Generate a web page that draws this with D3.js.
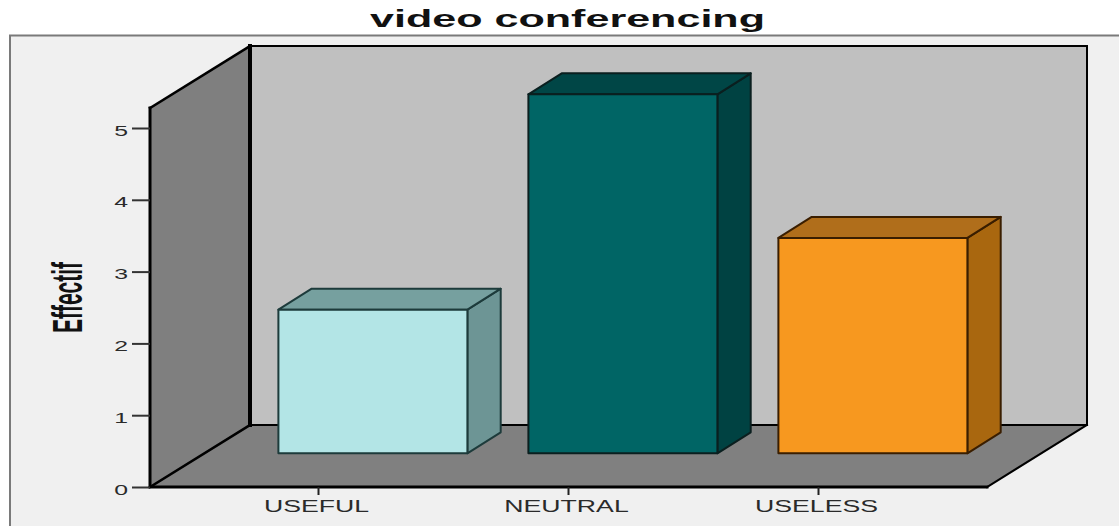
<!DOCTYPE html>
<html>
<head>
<meta charset="utf-8">
<script src="https://cdn.jsdelivr.net/npm/d3@7/dist/d3.min.js"></script>
<style>
  html, body { margin: 0; padding: 0; background: #ffffff; }
  svg { display: block; }
  text { font-family: "Liberation Sans", Arial, sans-serif; }
</style>
</head>
<body>
<svg id="chart" width="1119" height="526"></svg>
<script>
// ---- data ----
const categories = ["USEFUL", "NEUTRAL", "USELESS"];
const counts = [2, 5, 3];
const yTicks = [0, 1, 2, 3, 4, 5];
const chartTitle = "video conferencing";
const yTitle = "Effectif";

// ---- styles ----
const faceColors = {
  front: ["#b3e5e6", "#006565", "#f7981f"],
  top:   ["#76a09f", "#004646", "#b06e1b"],
  side:  ["#6d9595", "#004242", "#a9670f"],
  edge:  ["#1d3b3b", "#0a1f1f", "#3a1e00"]
};

// ---- layout ----
const W = 1119, H = 526;
const plot = { left: 150, right: 987, floor: 487, wallTop: 108 };
const depth = { dx: 100, dy: -62 };          // back wall offset
const barFront = { dx: 54.4, dy: -33.7 };    // bar front plane offset
const barDepth = { dx: 33.3, dy: -21 };      // bar thickness in depth

const svg = d3.select("#chart");

const x = d3.scaleBand()
  .domain(categories)
  .range([plot.left, plot.right])
  .paddingInner(0.244)
  .paddingOuter(0.296);

const y = d3.scaleLinear()
  .domain([0, 5])
  .range([plot.floor, 128]);

const poly = pts => "M" + pts.map(p => p.join(",")).join("L") + "Z";

// outer frame
svg.append("rect")
  .attr("x", 10).attr("y", 35.5)
  .attr("width", W + 20).attr("height", H)
  .attr("fill", "#f0f0f0")
  .attr("stroke", "#7a7a7a").attr("stroke-width", 2);

const L = plot.left, R = plot.right, F = plot.floor, T = plot.wallTop;
const bx = depth.dx, by = depth.dy;

// back wall
svg.append("path")
  .attr("d", poly([[L + bx, T + by], [R + bx, T + by], [R + bx, F + by], [L + bx, F + by]]))
  .attr("fill", "#c0c0c0");

// left wall
svg.append("path")
  .attr("d", poly([[L, T], [L + bx, T + by], [L + bx, F + by], [L, F]]))
  .attr("fill", "#7f7f7f");

// floor
svg.append("path")
  .attr("d", poly([[L, F], [L + bx, F + by], [R + bx, F + by], [R, F]]))
  .attr("fill", "#808080");

// frame edges
const edges = svg.append("g").attr("fill", "none").attr("stroke", "#000").attr("stroke-linecap", "square");
edges.append("path").attr("d", `M${L + bx},${T + by}L${R + bx},${T + by}L${R + bx},${F + by}L${L + bx},${F + by}`).attr("stroke-width", 2);
edges.append("path").attr("d", `M${L + bx},${T + by}L${L + bx},${F + by}`).attr("stroke-width", 4);
edges.append("path").attr("d", `M${L},${T}L${L + bx},${T + by}`).attr("stroke-width", 2.5);
edges.append("path").attr("d", `M${L},${F}L${L + bx},${F + by}`).attr("stroke-width", 2.5);
edges.append("path").attr("d", `M${R},${F}L${R + bx},${F + by}`).attr("stroke-width", 2);
edges.append("path").attr("d", `M${L},${T}L${L},${F}L${R},${F}`).attr("stroke-width", 3);

// bars
const bars = svg.append("g").selectAll("g")
  .data(categories.map((c, i) => ({ c, v: counts[i], i })))
  .join("g");

bars.each(function(d) {
  const g = d3.select(this);
  const x0 = x(d.c) + barFront.dx;
  const x1 = x0 + x.bandwidth();
  const yb = y(0) + barFront.dy;
  const yt = y(d.v) + barFront.dy;
  const ddx = barDepth.dx, ddy = barDepth.dy;
  const stroke = faceColors.edge[d.i];
  // side
  g.append("path")
    .attr("d", poly([[x1, yt], [x1 + ddx, yt + ddy], [x1 + ddx, yb + ddy], [x1, yb]]))
    .attr("fill", faceColors.side[d.i]).attr("stroke", stroke).attr("stroke-width", 2).attr("stroke-linejoin", "round");
  // top
  g.append("path")
    .attr("d", poly([[x0, yt], [x0 + ddx, yt + ddy], [x1 + ddx, yt + ddy], [x1, yt]]))
    .attr("fill", faceColors.top[d.i]).attr("stroke", stroke).attr("stroke-width", 2).attr("stroke-linejoin", "round");
  // front
  g.append("path")
    .attr("d", poly([[x0, yt], [x1, yt], [x1, yb], [x0, yb]]))
    .attr("fill", faceColors.front[d.i]).attr("stroke", stroke).attr("stroke-width", 2).attr("stroke-linejoin", "round");
});

// y axis
const yAxis = svg.append("g")
  .attr("transform", `translate(${L},0)`)
  .call(d3.axisLeft(y).tickValues(yTicks).tickSize(18).tickPadding(4).tickFormat(d3.format("d")));
yAxis.select(".domain").remove();
yAxis.selectAll(".tick line").attr("stroke", "#333").attr("stroke-width", 2);
yAxis.selectAll(".tick text").remove();
yAxis.selectAll(".tick").append("g")
  .attr("transform", "translate(-22,7) scale(1.6,1)")
  .append("text")
  .attr("text-anchor", "end")
  .attr("font-size", 15.5)
  .attr("fill", "#2a2a2a")
  .text(d => d);

// x axis
const xAxis = svg.append("g")
  .attr("transform", `translate(0,${F})`)
  .call(d3.axisBottom(x).tickSize(8).tickSizeOuter(0));
xAxis.select(".domain").remove();
xAxis.selectAll(".tick line").attr("stroke", "#222").attr("stroke-width", 2);
xAxis.selectAll(".tick text").remove();
xAxis.selectAll(".tick").append("g")
  .attr("transform", "translate(-2,25) scale(1.57,1)")
  .append("text")
  .attr("text-anchor", "middle")
  .attr("font-size", 17)
  .attr("fill", "#2a2a2a")
  .text(d => d);

// y title
svg.append("g")
  .attr("transform", "translate(82,297.5) scale(2,1) rotate(-90)")
  .append("text")
  .attr("text-anchor", "middle")
  .attr("font-size", 21)
  .attr("font-weight", "bold")
  .attr("fill", "#111")
  .text(yTitle);

// chart title
svg.append("text")
  .attr("x", 370).attr("y", 27)
  .attr("font-size", 23)
  .attr("font-weight", "bold")
  .attr("fill", "#111")
  .attr("textLength", 395)
  .attr("lengthAdjust", "spacingAndGlyphs")
  .text(chartTitle);
</script>
</body>
</html>
